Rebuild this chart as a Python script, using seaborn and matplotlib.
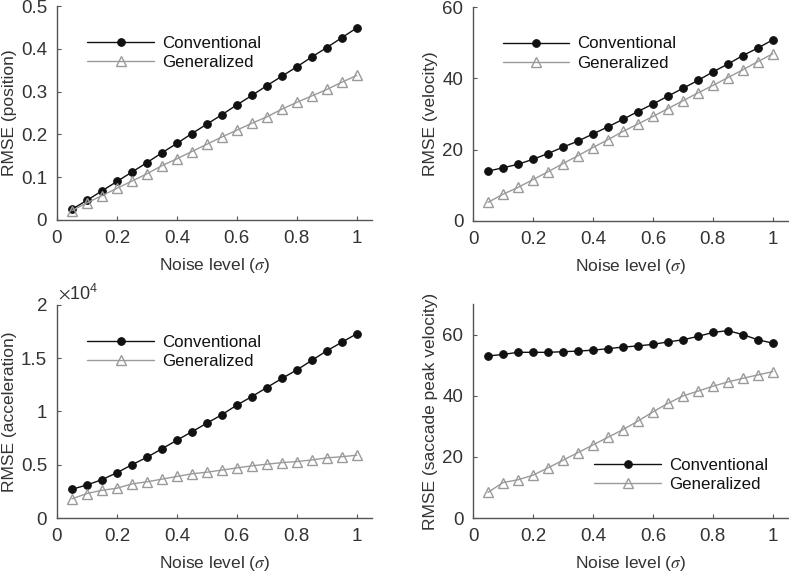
import numpy as np
import pandas as pd
import matplotlib
matplotlib.use("Agg")
import matplotlib.pyplot as plt
import seaborn as sns

noise = [0.05, 0.10, 0.15, 0.20, 0.25, 0.30, 0.35, 0.40, 0.45, 0.50,
         0.55, 0.60, 0.65, 0.70, 0.75, 0.80, 0.85, 0.90, 0.95, 1.00]

pos_conv = [0.025, 0.046, 0.068, 0.090, 0.112, 0.134, 0.157, 0.179, 0.202, 0.224,
            0.246, 0.269, 0.291, 0.314, 0.336, 0.358, 0.381, 0.403, 0.426, 0.449]
pos_gen = [0.022, 0.040, 0.057, 0.074, 0.091, 0.108, 0.127, 0.143, 0.160, 0.177,
           0.194, 0.210, 0.226, 0.241, 0.259, 0.275, 0.290, 0.305, 0.322, 0.338]

vel_conv = [14.0, 14.9, 15.9, 17.3, 18.9, 20.7, 22.4, 24.4, 26.4, 28.5,
            30.7, 32.8, 35.0, 37.2, 39.4, 41.8, 44.0, 46.4, 48.5, 50.8]
vel_gen = [5.2, 7.5, 9.4, 11.6, 13.8, 16.1, 18.3, 20.6, 22.8, 25.1,
           27.2, 29.3, 31.5, 33.7, 35.9, 38.0, 40.2, 42.4, 44.7, 46.9]

acc_conv = [2700, 3100, 3600, 4250, 5000, 5700, 6500, 7300, 8100, 8900,
            9700, 10600, 11400, 12250, 13100, 13900, 14800, 15700, 16500, 17300]
acc_gen = [1800, 2300, 2600, 2800, 3200, 3400, 3650, 3900, 4150, 4300,
           4500, 4700, 4900, 5050, 5200, 5300, 5450, 5650, 5750, 5900]

spv_conv = [53.0, 53.5, 54.2, 54.2, 54.2, 54.4, 54.6, 54.9, 55.4, 55.9,
            56.3, 56.8, 57.6, 58.3, 59.4, 60.7, 61.3, 60.0, 58.3, 57.2]
spv_gen = [8.4, 11.6, 12.5, 14.0, 16.4, 18.9, 21.4, 23.9, 26.4, 28.9,
           31.7, 34.7, 37.5, 39.9, 41.5, 43.1, 44.5, 45.7, 46.8, 47.9]

methods = ["Conventional", "Generalized"]
xtick_vals = [0, 0.2, 0.4, 0.6, 0.8, 1.0]
xtick_labels = ["0", "0.2", "0.4", "0.6", "0.8", "1"]

panels = [
    ("RMSE (position)", pos_conv, pos_gen, (0, 0.5),
     [0, 0.1, 0.2, 0.3, 0.4, 0.5], ["0", "0.1", "0.2", "0.3", "0.4", "0.5"], (0.070, 0.902)),
    ("RMSE (velocity)", vel_conv, vel_gen, (0, 60),
     [0, 20, 40, 60], ["0", "20", "40", "60"], (0.067, 0.902)),
    ("RMSE (acceleration)", acc_conv, acc_gen, (0, 20000),
     [0, 5000, 10000, 15000, 20000], ["0", "0.5", "1", "1.5", "2"], (0.070, 0.901)),
    ("RMSE (saccade peak velocity)", spv_conv, spv_gen, (0, 70),
     [0, 20, 40, 60], ["0", "20", "40", "60"], (0.359, 0.322)),
]

sns.set_style("ticks")
plt.rcParams["font.family"] = ["Liberation Sans", "DejaVu Sans"]
plt.rcParams["mathtext.fontset"] = "stix"

text_col = "#333333"
spine_col = "#555555"

fig = plt.figure(figsize=(7.89, 5.72), dpi=100)
rects = [
    [0.0722, 0.6154, 0.399, 0.374],
    [0.5995, 0.6137, 0.399, 0.374],
    [0.0722, 0.0944, 0.399, 0.3724],
    [0.5995, 0.0944, 0.399, 0.3741],
]

palette = {"Conventional": "#111111", "Generalized": "#9a9a9a"}

for rect, (ylabel, conv, gen, ylim, yticks, ylabels, anchor) in zip(rects, panels):
    ax = fig.add_axes(rect)
    df = pd.DataFrame({
        "noise": noise * 2,
        "rmse": list(conv) + list(gen),
        "method": [methods[0]] * len(noise) + [methods[1]] * len(noise),
    })
    sns.lineplot(data=df[df.method == "Conventional"], x="noise", y="rmse", ax=ax,
                 color=palette["Conventional"], lw=1.0, marker="o", markersize=5.5,
                 markerfacecolor="#111111", markeredgecolor="#111111",
                 label="Conventional")
    sns.lineplot(data=df[df.method == "Generalized"], x="noise", y="rmse", ax=ax,
                 color=palette["Generalized"], lw=1.0, marker="^", markersize=7.5,
                 markerfacecolor="none", markeredgecolor="#9a9a9a", markeredgewidth=1.0,
                 label="Generalized")
    ax.set_xlim(0, 1.05)
    ax.set_ylim(*ylim)
    ax.set_xticks(xtick_vals)
    ax.set_xticklabels(xtick_labels)
    ax.set_yticks(yticks)
    ax.set_yticklabels(ylabels)
    if ylabel == "RMSE (acceleration)":
        ax.text(0.003, 1.012, r"$\times\mathregular{10^{4}}$", transform=ax.transAxes,
                ha="left", va="bottom", fontsize=13, color=text_col)
    ax.set_xlabel(r"Noise level ($\sigma$)", fontsize=12.5, color=text_col, labelpad=7)
    ax.set_ylabel(ylabel, fontsize=12.5, color=text_col, labelpad=3)
    ax.tick_params(direction="in", length=3, width=0.8, colors=spine_col,
                   labelcolor=text_col, labelsize=13.5, pad=7)
    sns.despine(ax=ax)
    for s in ["left", "bottom"]:
        ax.spines[s].set_color(spine_col)
        ax.spines[s].set_linewidth(1.0)
    leg = ax.legend(loc="upper left", bbox_to_anchor=anchor, frameon=False,
                    handlelength=3.9, fontsize=12.2, labelspacing=0.25,
                    handletextpad=0.5, borderpad=0)
    for t in leg.get_texts():
        t.set_color("#111111")

fig.savefig("out.png", dpi=100)
